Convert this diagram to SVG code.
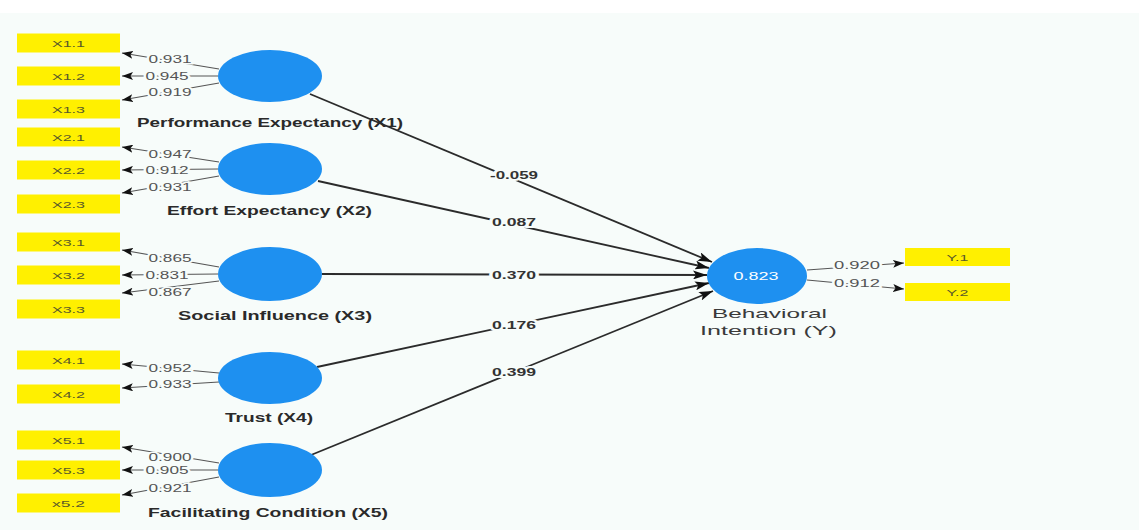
<svg xmlns="http://www.w3.org/2000/svg" width="1139" height="530" viewBox="0 0 1139 530">
  <defs>
    <style>
      .ind rect { fill: #fff000; }
      .ind text { font-family: "Liberation Sans", Arial, sans-serif; font-size: 9.5px; fill: #5a5a2a; text-anchor: middle; }
      .lv ellipse { fill: #1e90f0; }
      .name { font-family: "Liberation Sans", Arial, sans-serif; font-size: 12px; font-weight: bold; fill: #2a2a2a; text-anchor: middle; }
      .yname { font-family: "Liberation Sans", Arial, sans-serif; font-size: 13px; fill: #3a3a3a; text-anchor: middle; }
      .r2 { font-family: "Liberation Sans", Arial, sans-serif; font-size: 10px; fill: #ffffff; text-anchor: middle; }
      .load { stroke: #555; stroke-width: 1.1; fill: none; }
      .path { stroke: #2b2b2b; stroke-width: 1.8; fill: none; }
      .ll { font-family: "Liberation Sans", Arial, sans-serif; font-size: 10px; fill: #555; text-anchor: middle;
            stroke: #f7fcfa; stroke-width: 3; paint-order: stroke; }
      .pl { font-family: "Liberation Sans", Arial, sans-serif; font-size: 10px; font-weight: bold; fill: #333; text-anchor: middle;
            stroke: #f7fcfa; stroke-width: 4; paint-order: stroke; }
    </style>
    <marker id="tip" viewBox="0 0 14 9" refX="14" refY="4.5" markerWidth="14" markerHeight="9" markerUnits="userSpaceOnUse" orient="auto">
      <path d="M0,0 L14,4.5 L0,9 L3,4.5 z" fill="#111"/>
    </marker>
    <marker id="tipS" viewBox="0 0 11 8" refX="11" refY="4" markerWidth="11" markerHeight="8" markerUnits="userSpaceOnUse" orient="auto">
      <path d="M0,0 L11,4 L0,8 L2.5,4 z" fill="#111"/>
    </marker>
  </defs>

  <!-- canvas -->
  <rect x="0" y="0" width="1139" height="530" fill="#f7fcfa"/>
  <rect x="0" y="0" width="1139" height="13" fill="#ffffff"/>

  <!-- connectors: outer loadings and inner paths -->
  <g id="connectors">
    <g class="load">
      <line x1="219" y1="69" x2="122" y2="53" marker-end="url(#tipS)"/>
      <line x1="218" y1="76" x2="122" y2="76" marker-end="url(#tipS)"/>
      <line x1="219" y1="83" x2="122" y2="100" marker-end="url(#tipS)"/>
      <line x1="219" y1="162" x2="122" y2="147" marker-end="url(#tipS)"/>
      <line x1="218" y1="169" x2="122" y2="170" marker-end="url(#tipS)"/>
      <line x1="219" y1="176" x2="122" y2="193" marker-end="url(#tipS)"/>
      <line x1="219" y1="267" x2="122" y2="250" marker-end="url(#tipS)"/>
      <line x1="218" y1="274" x2="122" y2="275" marker-end="url(#tipS)"/>
      <line x1="219" y1="281" x2="122" y2="293" marker-end="url(#tipS)"/>
      <line x1="219" y1="373" x2="122" y2="364" marker-end="url(#tipS)"/>
      <line x1="219" y1="382" x2="122" y2="388" marker-end="url(#tipS)"/>
      <line x1="219" y1="463" x2="122" y2="447" marker-end="url(#tipS)"/>
      <line x1="218" y1="470" x2="122" y2="470" marker-end="url(#tipS)"/>
      <line x1="219" y1="477" x2="122" y2="495" marker-end="url(#tipS)"/>
      <line x1="807" y1="270" x2="904" y2="263" marker-end="url(#tipS)"/>
      <line x1="807" y1="280" x2="904" y2="289" marker-end="url(#tipS)"/>
    </g>
    <g class="path">
      <line x1="310" y1="94" x2="712" y2="262" marker-end="url(#tip)"/>
      <line x1="318" y1="181" x2="709" y2="268" marker-end="url(#tip)"/>
      <line x1="322" y1="274" x2="707" y2="275" marker-end="url(#tip)"/>
      <line x1="317" y1="367" x2="709" y2="283" marker-end="url(#tip)"/>
      <line x1="311" y1="455" x2="713" y2="291" marker-end="url(#tip)"/>
    </g>
    <!-- loading values -->
    <text class="ll" x="170" y="62.5" textLength="43" lengthAdjust="spacingAndGlyphs">0.931</text>
    <text class="ll" x="167" y="79.5" textLength="43" lengthAdjust="spacingAndGlyphs">0.945</text>
    <text class="ll" x="170" y="95.5" textLength="43" lengthAdjust="spacingAndGlyphs">0.919</text>
    <text class="ll" x="170" y="157.5" textLength="43" lengthAdjust="spacingAndGlyphs">0.947</text>
    <text class="ll" x="167" y="173.5" textLength="43" lengthAdjust="spacingAndGlyphs">0.912</text>
    <text class="ll" x="170" y="190.5" textLength="43" lengthAdjust="spacingAndGlyphs">0.931</text>
    <text class="ll" x="170" y="261.5" textLength="43" lengthAdjust="spacingAndGlyphs">0.865</text>
    <text class="ll" x="167" y="278.5" textLength="43" lengthAdjust="spacingAndGlyphs">0.831</text>
    <text class="ll" x="170" y="295.5" textLength="43" lengthAdjust="spacingAndGlyphs">0.867</text>
    <text class="ll" x="170" y="371.5" textLength="43" lengthAdjust="spacingAndGlyphs">0.952</text>
    <text class="ll" x="170" y="387.5" textLength="43" lengthAdjust="spacingAndGlyphs">0.933</text>
    <text class="ll" x="170" y="460.5" textLength="43" lengthAdjust="spacingAndGlyphs">0.900</text>
    <text class="ll" x="167" y="473.5" textLength="43" lengthAdjust="spacingAndGlyphs">0.905</text>
    <text class="ll" x="170" y="491.5" textLength="43" lengthAdjust="spacingAndGlyphs">0.921</text>
    <text class="ll" x="857" y="268.5" textLength="46" lengthAdjust="spacingAndGlyphs">0.920</text>
    <text class="ll" x="857" y="286.5" textLength="46" lengthAdjust="spacingAndGlyphs">0.912</text>
    <!-- path coefficients -->
    <text class="pl" x="514" y="178.5" textLength="48" lengthAdjust="spacingAndGlyphs">-0.059</text>
    <text class="pl" x="514" y="225.5" textLength="44" lengthAdjust="spacingAndGlyphs">0.087</text>
    <text class="pl" x="514" y="278.5" textLength="44" lengthAdjust="spacingAndGlyphs">0.370</text>
    <text class="pl" x="514" y="328.5" textLength="44" lengthAdjust="spacingAndGlyphs">0.176</text>
    <text class="pl" x="514" y="375.5" textLength="44" lengthAdjust="spacingAndGlyphs">0.399</text>
  </g>

  <!-- indicators -->
  <g id="X1.1" class="ind"><rect x="17" y="33.5" width="103" height="19"/><text x="68.5" y="46.5" textLength="33" lengthAdjust="spacingAndGlyphs">X1.1</text></g>
  <g id="X1.2" class="ind"><rect x="17" y="66.5" width="103" height="19"/><text x="68.5" y="79.5" textLength="33" lengthAdjust="spacingAndGlyphs">X1.2</text></g>
  <g id="X1.3" class="ind"><rect x="17" y="99.5" width="103" height="19"/><text x="68.5" y="112.5" textLength="33" lengthAdjust="spacingAndGlyphs">X1.3</text></g>
  <g id="X2.1" class="ind"><rect x="17" y="127.5" width="103" height="19"/><text x="68.5" y="140.5" textLength="33" lengthAdjust="spacingAndGlyphs">X2.1</text></g>
  <g id="X2.2" class="ind"><rect x="17" y="160.5" width="103" height="19"/><text x="68.5" y="173.5" textLength="33" lengthAdjust="spacingAndGlyphs">X2.2</text></g>
  <g id="X2.3" class="ind"><rect x="17" y="194.5" width="103" height="19"/><text x="68.5" y="207.5" textLength="33" lengthAdjust="spacingAndGlyphs">X2.3</text></g>
  <g id="X3.1" class="ind"><rect x="17" y="232.5" width="103" height="19"/><text x="68.5" y="245.5" textLength="33" lengthAdjust="spacingAndGlyphs">X3.1</text></g>
  <g id="X3.2" class="ind"><rect x="17" y="265.5" width="103" height="19"/><text x="68.5" y="278.5" textLength="33" lengthAdjust="spacingAndGlyphs">X3.2</text></g>
  <g id="X3.3" class="ind"><rect x="17" y="299.5" width="103" height="19"/><text x="68.5" y="312.5" textLength="33" lengthAdjust="spacingAndGlyphs">X3.3</text></g>
  <g id="X4.1" class="ind"><rect x="17" y="350.5" width="103" height="19"/><text x="68.5" y="363.5" textLength="33" lengthAdjust="spacingAndGlyphs">X4.1</text></g>
  <g id="X4.2" class="ind"><rect x="17" y="384.5" width="103" height="19"/><text x="68.5" y="397.5" textLength="33" lengthAdjust="spacingAndGlyphs">X4.2</text></g>
  <g id="X5.1" class="ind"><rect x="17" y="430.5" width="103" height="19"/><text x="68.5" y="443.5" textLength="33" lengthAdjust="spacingAndGlyphs">X5.1</text></g>
  <g id="X5.3" class="ind"><rect x="17" y="460.5" width="103" height="19"/><text x="68.5" y="473.5" textLength="33" lengthAdjust="spacingAndGlyphs">X5.3</text></g>
  <g id="x5.2" class="ind"><rect x="17" y="493.5" width="103" height="19"/><text x="68.5" y="506.5" textLength="33" lengthAdjust="spacingAndGlyphs">x5.2</text></g>
  <g id="Y.1" class="ind"><rect x="905" y="248" width="105" height="18"/><text x="957.5" y="260.5" textLength="22" lengthAdjust="spacingAndGlyphs">Y.1</text></g>
  <g id="Y.2" class="ind"><rect x="905" y="283" width="105" height="18"/><text x="957.5" y="295.5" textLength="22" lengthAdjust="spacingAndGlyphs">Y.2</text></g>

  <!-- latent variables -->
  <g id="X1" class="lv">
    <ellipse cx="270" cy="76" rx="52" ry="26"/>
    <text class="name" x="270" y="127" textLength="266" lengthAdjust="spacingAndGlyphs">Performance Expectancy (X1)</text>
  </g>
  <g id="X2" class="lv">
    <ellipse cx="270" cy="169" rx="52" ry="26"/>
    <text class="name" x="269.5" y="215" textLength="205" lengthAdjust="spacingAndGlyphs">Effort Expectancy (X2)</text>
  </g>
  <g id="X3" class="lv">
    <ellipse cx="270" cy="274" rx="52" ry="27"/>
    <text class="name" x="275" y="320" textLength="194" lengthAdjust="spacingAndGlyphs">Social Influence (X3)</text>
  </g>
  <g id="X4" class="lv">
    <ellipse cx="270" cy="378" rx="52" ry="26"/>
    <text class="name" x="269" y="422" textLength="88" lengthAdjust="spacingAndGlyphs">Trust (X4)</text>
  </g>
  <g id="X5" class="lv">
    <ellipse cx="270" cy="470" rx="52" ry="27"/>
    <text class="name" x="268" y="517" textLength="240" lengthAdjust="spacingAndGlyphs">Facilitating Condition (X5)</text>
  </g>
  <g id="Y" class="lv">
    <ellipse cx="757" cy="276" rx="50" ry="28"/>
    <text class="r2" x="756" y="279.5" textLength="45" lengthAdjust="spacingAndGlyphs">0.823</text>
    <text class="yname" x="769.5" y="318" textLength="115" lengthAdjust="spacingAndGlyphs">Behavioral</text>
    <text class="yname" x="768.5" y="335" textLength="137" lengthAdjust="spacingAndGlyphs">Intention (Y)</text>
  </g>
</svg>
